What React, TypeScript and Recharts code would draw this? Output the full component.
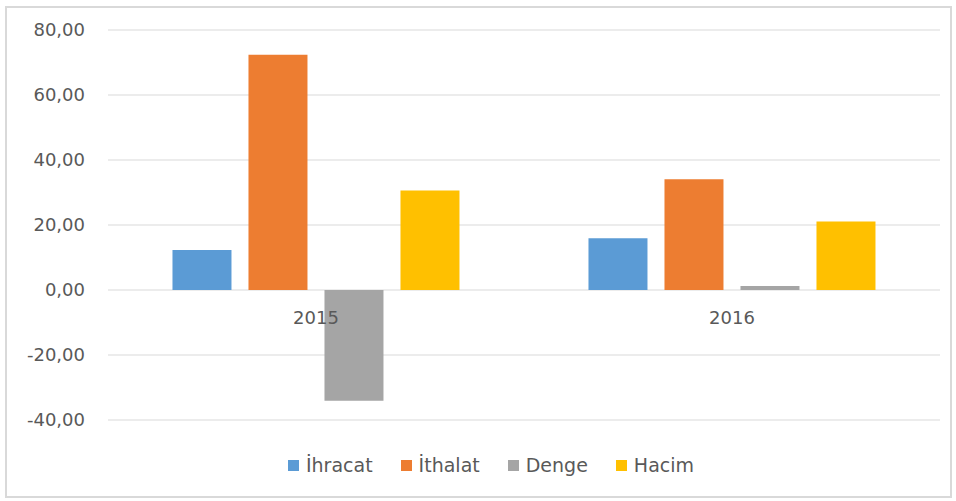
import React from 'react';
import { BarChart, Bar, XAxis, YAxis, CartesianGrid, Legend } from 'recharts';

const years = ['2015', '2016'];
const ihracat = [12.3, 15.9];
const ithalat = [72.4, 34.1];
const denge = [-34.1, 1.2];
const hacim = [30.6, 21.1];
const yTicks = [-40, -20, 0, 20, 40, 60, 80];

const seriesNames = ['İhracat', 'İthalat', 'Denge', 'Hacim'];
const seriesKeys = ['ihracat', 'ithalat', 'denge', 'hacim'];
const colors = ['#5B9BD5', '#ED7D31', '#A5A5A5', '#FFC000'];

const data = years.map((y, i) => ({
  year: y,
  ihracat: ihracat[i],
  ithalat: ithalat[i],
  denge: denge[i],
  hacim: hacim[i],
}));

const W = 956;
const H = 501;
const MARGIN = { top: 30, right: 16, bottom: 16, left: 0 };
const LEGEND_H = 50;
const XAXIS_H = 15;
const PLOT_H = H - MARGIN.top - MARGIN.bottom - LEGEND_H - XAXIS_H;
const Y_MIN = yTicks[0];
const Y_MAX = yTicks[yTicks.length - 1];
const ZERO_Y = MARGIN.top + (PLOT_H * (Y_MAX - 0)) / (Y_MAX - Y_MIN);

const FONT = '"DejaVu Sans", sans-serif';
const TEXT_COLOR = '#595959';

const fmt = (v: number) => v.toFixed(2).replace('.', ',');

const XTick = (props: any) => {
  const { x, payload } = props;
  return (
    <text x={x} y={ZERO_Y + 28} textAnchor="middle" dy="0.355em" fontFamily={FONT} fontSize={18} fill={TEXT_COLOR}>
      {payload.value}
    </text>
  );
};

const LegendContent = () => (
  <div
    style={{
      display: 'flex',
      justifyContent: 'center',
      alignItems: 'center',
      height: LEGEND_H,
      paddingTop: 10,
      paddingLeft: 42,
      boxSizing: 'border-box',
      fontFamily: FONT,
      fontSize: 19,
      color: TEXT_COLOR,
    }}
  >
    {seriesNames.map((n, i) => (
      <div key={n} style={{ display: 'flex', alignItems: 'center', marginRight: i < seriesNames.length - 1 ? 28 : 0 }}>
        <span style={{ display: 'inline-block', width: 11, height: 11, background: colors[i], marginRight: 7 }} />
        <span>{n}</span>
      </div>
    ))}
  </div>
);

export default function App() {
  return (
    <div style={{ position: 'absolute', left: 0, top: 0, width: W, height: H, background: '#fff' }}>
      <div
        style={{
          position: 'absolute',
          left: 5,
          top: 6,
          width: 947,
          height: 492,
          border: '2px solid #d9d9d9',
          boxSizing: 'border-box',
        }}
      />
      <div style={{ position: 'absolute', left: 0, top: 0 }}>
        <BarChart width={W} height={H} data={data} margin={MARGIN} barCategoryGap="15.5%" barGap={17}>
          <CartesianGrid vertical={false} stroke="#d9d9d9" strokeWidth={1} />
          <XAxis dataKey="year" height={XAXIS_H} axisLine={false} tickLine={false} tick={<XTick />} interval={0} />
          <YAxis
            width={108}
            domain={[Y_MIN, Y_MAX]}
            ticks={yTicks}
            tickFormatter={fmt}
            axisLine={false}
            tickLine={false}
            tickSize={0}
            tickMargin={23}
            tick={{ fontFamily: FONT, fontSize: 18, fill: TEXT_COLOR }}
            interval={0}
          />
          <Legend verticalAlign="bottom" height={LEGEND_H} content={<LegendContent />} />
          {seriesKeys.map((k, i) => (
            <Bar key={k} dataKey={k} name={seriesNames[i]} fill={colors[i]} isAnimationActive={false} />
          ))}
        </BarChart>
      </div>
    </div>
  );
}
